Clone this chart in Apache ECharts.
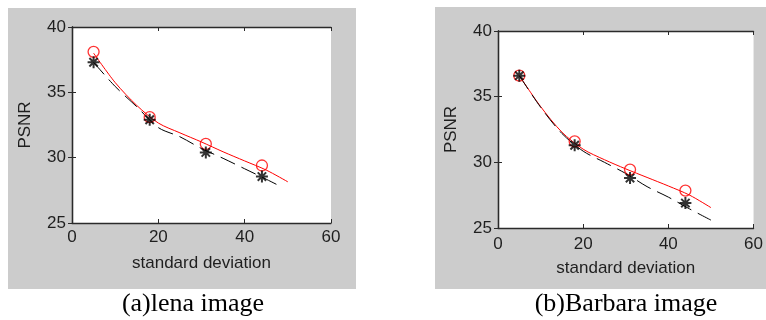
<!DOCTYPE html>
<html>
<head>
<meta charset="utf-8">
<script src="https://cdn.jsdelivr.net/npm/echarts@6/dist/echarts.min.js"></script>
<style>
html,body{margin:0;padding:0;background:#fff;}
#chart{width:766px;height:320px;}
</style>
</head>
<body>
<div id="chart"></div>
<script>
// ---- data ----
const sigma = [5, 18, 31, 44];
const lenaProposed = [38.1, 33.1, 31.05, 29.4];
const lenaCompared = [37.3, 32.9, 30.4, 28.55];
const barbaraProposed = [36.6, 31.6, 29.45, 27.85];
const barbaraCompared = [36.6, 31.3, 28.8, 26.9];

const fitX = [5, 10, 15, 20, 25, 30, 35, 40, 45, 50];
const lenaComparedFitX = [5, 10, 15, 20, 25, 30, 35, 40, 45, 48];
const lenaProposedFit = [38.0, 35.75, 34.0, 32.65, 31.9, 31.2, 30.45, 29.75, 29.05, 28.15];
const lenaComparedFit = [37.3, 35.45, 33.9, 32.3, 31.6, 30.7, 29.95, 29.15, 28.35, 27.85];
const barbaraProposedFit = [36.6, 34.25, 32.3, 31.0, 30.2, 29.5, 28.85, 28.2, 27.5, 26.55];
const barbaraComparedFit = [36.6, 34.2, 32.2, 30.85, 30.0, 29.15, 28.15, 27.35, 26.45, 25.6];

const xTicks = [0, 20, 40, 60];
const yTicks = [25, 30, 35, 40];
const xTitle = 'standard deviation';
const yTitle = 'PSNR';
const captions = ['(a)lena image', '(b)Barbara image'];

// ---- helpers ----
const zip = (xs, ys) => xs.map((x, i) => [x, ys[i]]);
const axisColor = '#2a2a2a';
const labelFont = {fontFamily: 'Liberation Sans', fontSize: 17, color: '#1f1f1f'};
const starPath = 'path://M0,-10L0,10M-10,0L10,0M-7,-7L7,7M-7,7L7,-7';

const panels = [
  {left: 72, top: 27, width: 259, height: 196, xMargin: 6, proposed: lenaProposed, compared: lenaCompared,
   pFitX: fitX, pFit: lenaProposedFit, cFitX: lenaComparedFitX, cFit: lenaComparedFit},
  {left: 498, top: 31, width: 262, height: 197, xMargin: 8, proposed: barbaraProposed, compared: barbaraCompared,
   pFitX: fitX, pFit: barbaraProposedFit, cFitX: fitX, cFit: barbaraComparedFit}
];

const grid = [], xAxis = [], yAxis = [], series = [];
panels.forEach((p, gi) => {
  grid.push({left: p.left, top: p.top, width: p.width, height: p.height, show: true,
    backgroundColor: '#ffffff', borderWidth: 0});
  const xBase = {type: 'value', gridIndex: gi, min: xTicks[0], max: xTicks[xTicks.length - 1],
    interval: xTicks[1] - xTicks[0], splitLine: {show: false},
    axisLine: {show: true, lineStyle: {color: axisColor, width: 1.3}},
    axisTick: {show: true, inside: true, length: 4, lineStyle: {color: axisColor}}};
  const yBase = {type: 'value', gridIndex: gi, min: yTicks[0], max: yTicks[yTicks.length - 1],
    interval: yTicks[1] - yTicks[0], splitLine: {show: false},
    axisLine: {show: true, lineStyle: {color: axisColor, width: 1.3}},
    axisTick: {show: true, inside: true, length: 4, lineStyle: {color: axisColor}}};
  xAxis.push(Object.assign({}, xBase, {position: 'bottom',
    axisLabel: Object.assign({margin: p.xMargin, showMinLabel: true, showMaxLabel: true}, labelFont),
    name: xTitle, nameLocation: 'middle', nameGap: 32,
    nameTextStyle: {fontFamily: 'Liberation Sans', fontSize: 17, color: '#1f1f1f'}}));
  xAxis.push(Object.assign({}, xBase, {position: 'top', axisLabel: {show: false}}));
  yAxis.push(Object.assign({}, yBase, {position: 'left',
    axisLabel: Object.assign({margin: 6, showMinLabel: true, showMaxLabel: true}, labelFont),
    name: yTitle, nameLocation: 'middle', nameGap: 38, nameRotate: 90,
    nameTextStyle: {fontFamily: 'Liberation Sans', fontSize: 17, color: '#1f1f1f'}}));
  yAxis.push(Object.assign({}, yBase, {position: 'right', axisLabel: {show: false}}));

  const xi = gi * 2, yi = gi * 2;
  series.push({type: 'line', xAxisIndex: xi, yAxisIndex: yi, data: zip(p.pFitX, p.pFit),
    smooth: 0.3, showSymbol: false, symbol: 'none', lineStyle: {color: '#ff0000', width: 1}, z: 2, silent: true});
  series.push({type: 'line', xAxisIndex: xi, yAxisIndex: yi, data: zip(p.cFitX, p.cFit),
    smooth: 0.3, showSymbol: false, symbol: 'none', lineStyle: {color: '#000000', width: 1, type: [16, 7]}, z: 3, silent: true});
  series.push({type: 'scatter', xAxisIndex: xi, yAxisIndex: yi, data: zip(sigma, p.proposed),
    symbol: 'circle', symbolSize: 11, itemStyle: {color: 'rgba(0,0,0,0)', borderColor: '#ff0000', borderWidth: 1.3}, z: 4, silent: true});
  series.push({type: 'scatter', xAxisIndex: xi, yAxisIndex: yi, data: zip(sigma, p.compared),
    symbol: starPath, symbolSize: 12, itemStyle: {color: 'rgba(0,0,0,0)', borderColor: '#000000', borderWidth: 2}, z: 5, silent: true});
});

const chart = echarts.init(document.getElementById('chart'), null, {renderer: 'canvas'});
chart.setOption({
  animation: false,
  backgroundColor: '#ffffff',
  grid: grid, xAxis: xAxis, yAxis: yAxis, series: series,
  graphic: [
    {type: 'rect', shape: {x: 8, y: 8, width: 348, height: 281}, style: {fill: '#cccccc'}, z: -100, silent: true},
    {type: 'rect', shape: {x: 435, y: 7, width: 340, height: 282}, style: {fill: '#cccccc'}, z: -100, silent: true},
    {type: 'text', x: 193, y: 304, style: {text: captions[0], font: '26px "Liberation Serif"', fill: '#000',
      textAlign: 'center', textVerticalAlign: 'middle'}, silent: true},
    {type: 'text', x: 626, y: 304, style: {text: captions[1], font: '26px "Liberation Serif"', fill: '#000',
      textAlign: 'center', textVerticalAlign: 'middle'}, silent: true}
  ]
});
</script>
</body>
</html>
